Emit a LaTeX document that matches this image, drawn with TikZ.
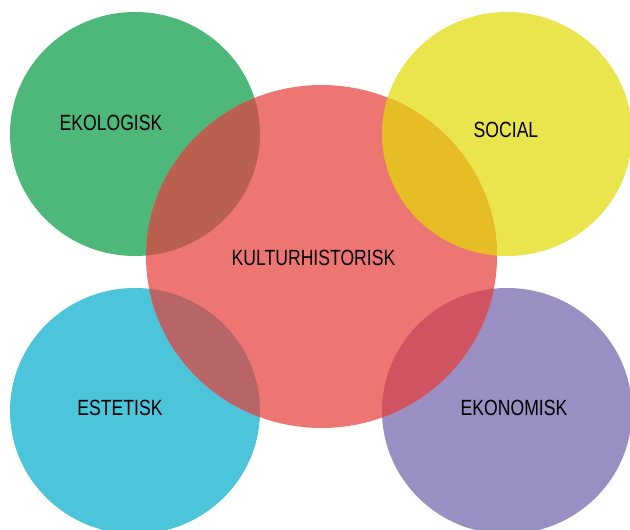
\documentclass[tikz,border=0pt]{standalone}
\usepackage{fontspec}
\setmainfont[FakeStretch=0.8]{Liberation Sans}
\begin{document}
\begin{tikzpicture}[x=1pt,y=-1pt,
  lbl/.style={font=\fontsize{22}{24}\selectfont, text=black, inner sep=0pt},
]
\definecolor{cgreen}{HTML}{4DB87A}
\definecolor{cred}{HTML}{EE7672}
\definecolor{cyellow}{HTML}{EBE54D}
\definecolor{ccyan}{HTML}{4CC4D9}
\definecolor{cpurple}{HTML}{9A8FC2}
\definecolor{ogreen}{HTML}{B9614E}
\definecolor{oyellow}{HTML}{E6BD25}
\definecolor{ocyan}{HTML}{B86568}
\definecolor{opurple}{HTML}{CF5360}
\useasboundingbox (0,0) rectangle (630,530);
\def\gr{(135,134) ellipse [x radius=125, y radius=122]}
\def\ye{(507,134) ellipse [x radius=125, y radius=122]}
\def\cy{(135,411) ellipse [x radius=125, y radius=123]}
\def\pu{(507,411) ellipse [x radius=125, y radius=123]}
\def\re{(321.5,256.5) ellipse [x radius=175.5, y radius=171.5]}
\fill[cgreen] \gr;
\fill[cyellow] \ye;
\fill[ccyan] \cy;
\fill[cpurple] \pu;
\fill[cred] \re;
\begin{scope}\clip \gr; \fill[ogreen] \re; \end{scope}
\begin{scope}\clip \ye; \fill[oyellow] \re; \end{scope}
\begin{scope}\clip \cy; \fill[ocyan] \re; \end{scope}
\begin{scope}\clip \pu; \fill[opurple] \re; \end{scope}
\node[lbl] (eko) at (111,123) {EKOLOGISK};
\node[lbl] (soc) at (506,130) {SOCIAL};
\node[lbl] (kul) at (313.5,258) {KULTURHISTORISK};
\node[lbl] (est) at (120,408) {ESTETISK};
\node[lbl] (ekn) at (514,408) {EKONOMISK};
\end{tikzpicture}
\end{document}
